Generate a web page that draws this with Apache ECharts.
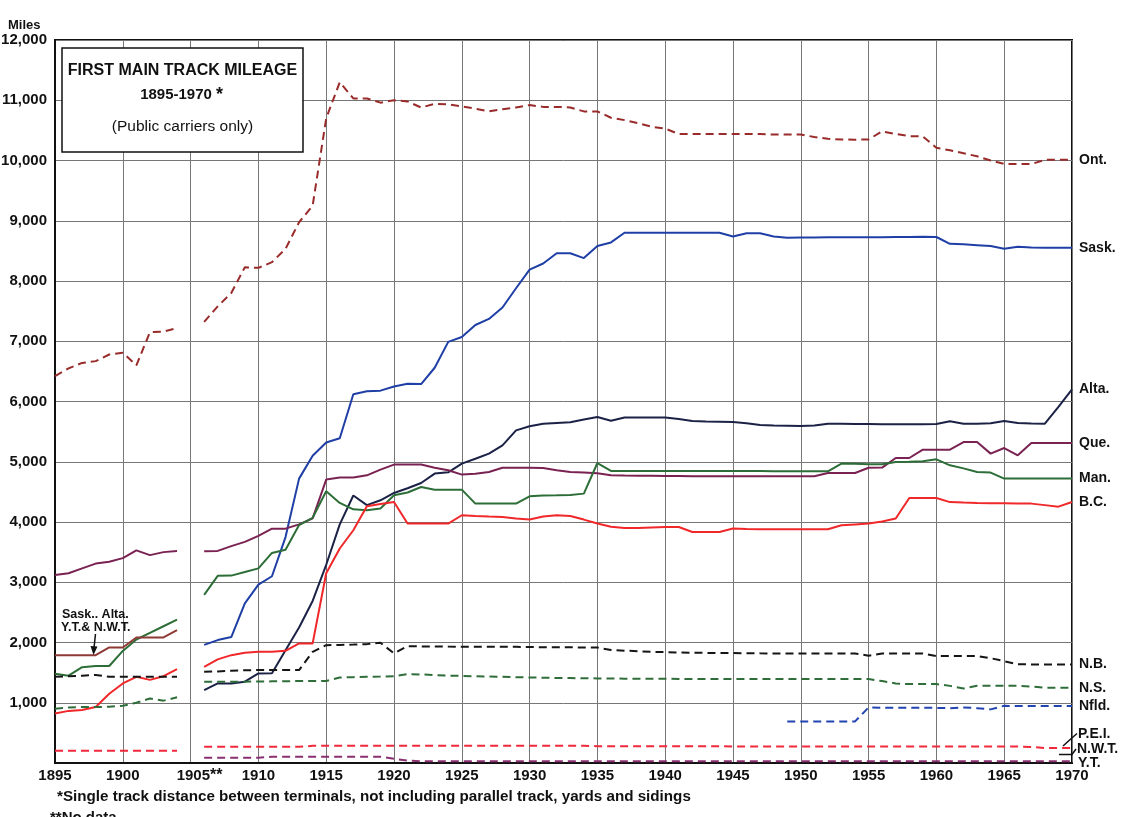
<!DOCTYPE html>
<html>
<head>
<meta charset="utf-8">
<title>First Main Track Mileage 1895-1970</title>
<script src="https://cdn.jsdelivr.net/npm/echarts/dist/echarts.min.js"></script>
<style>
    html, body { margin: 0; padding: 0; background: #fff; }
    #main { width: 1131px; height: 817px; }
</style>
</head>
<body>
<div id="main"></div>
<script>
// years on the x axis, 1905 has no data
var years = [
    1895, 1896, 1897, 1898, 1899, 1900, 1901, 1902, 1903, 1904,
    1905,
    1906, 1907, 1908, 1909, 1910, 1911, 1912, 1913, 1914,
    1915, 1916, 1917, 1918, 1919, 1920, 1921, 1922, 1923, 1924,
    1925, 1926, 1927, 1928, 1929, 1930, 1931, 1932, 1933, 1934,
    1935, 1936, 1937, 1938, 1939, 1940, 1941, 1942, 1943, 1944,
    1945, 1946, 1947, 1948, 1949, 1950, 1951, 1952, 1953, 1954,
    1955, 1956, 1957, 1958, 1959, 1960, 1961, 1962, 1963, 1964,
    1965, 1966, 1967, 1968, 1969, 1970
];
var yTicks = [0, 1000, 2000, 3000, 4000, 5000, 6000, 7000, 8000, 9000, 10000, 11000, 12000];

// miles per province, same order as years (null = no line)
var ont = [
    6420, 6550, 6640, 6670, 6780, 6810, 6600, 7150, 7160, 7220,
    null,
    7320, 7580, 7800, 8229, 8218, 8312, 8533, 8975, 9250,
    10700, 11300, 11030, 11030, 10960, 11000, 10980, 10880, 10940, 10930,
    10900, 10860, 10815, 10850, 10880, 10920, 10890, 10890, 10880, 10815,
    10815, 10710, 10670, 10620, 10560, 10530, 10440, 10440, 10440, 10440,
    10440, 10440, 10440, 10430, 10430, 10430, 10390, 10360, 10350, 10345,
    10350, 10484, 10440, 10405, 10400, 10210, 10170, 10120, 10070, 10000,
    9943, 9940, 9940, 10010, 10014, 10014
];
var sask = [
    null, null, null, null, null, null, null, null, null, null,
    null,
    1960, 2040, 2090, 2650, 2960, 3100, 3750, 4720, 5100,
    5320, 5390, 6120, 6170, 6180, 6250, 6295, 6290, 6560, 6990,
    7070, 7270, 7370, 7560, 7880, 8190, 8290, 8460, 8460, 8380,
    8580, 8640, 8800, 8800, 8800, 8800, 8800, 8800, 8800, 8800,
    8740, 8793, 8793, 8740, 8716, 8720, 8720, 8725, 8725, 8725,
    8725, 8725, 8730, 8730, 8735, 8730, 8617, 8610, 8595, 8580,
    8534, 8570, 8555, 8550, 8550, 8550
];
var alta = [
    null, null, null, null, null, null, null, null, null, null,
    null,
    1210, 1320, 1320, 1350, 1487, 1490, 1870, 2250, 2690,
    3290, 3960, 4440, 4280, 4360, 4482, 4560, 4647, 4803, 4825,
    4969, 5050, 5135, 5273, 5521, 5588, 5630, 5643, 5655, 5700,
    5743, 5680, 5735, 5735, 5735, 5735, 5710, 5676, 5670, 5665,
    5660, 5640, 5610, 5600, 5598, 5594, 5600, 5632, 5630, 5628,
    5626, 5624, 5622, 5621, 5621, 5625, 5671, 5632, 5632, 5640,
    5676, 5643, 5635, 5632, 5910, 6200
];
var que = [
    3120, 3150, 3230, 3310, 3340, 3400, 3530, 3450, 3500, 3520,
    null,
    3515, 3520, 3600, 3670, 3770, 3890, 3890, 3960, 4060,
    4704, 4737, 4737, 4775, 4870, 4953, 4953, 4953, 4900, 4860,
    4787, 4800, 4830, 4900, 4900, 4900, 4895, 4860, 4830, 4820,
    4810, 4775, 4770, 4768, 4766, 4764, 4762, 4760, 4760, 4760,
    4760, 4760, 4760, 4760, 4760, 4760, 4760, 4814, 4814, 4814,
    4900, 4903, 5062, 5062, 5200, 5200, 5201, 5327, 5327, 5135,
    5228, 5107, 5311, 5311, 5311, 5311
];
var man = [
    1480, 1450, 1590, 1610, 1610, 1860, 2050, 2160, 2270, 2380,
    null,
    2790, 3106, 3110, 3170, 3230, 3487, 3540, 3950, 4070,
    4510, 4316, 4210, 4195, 4223, 4443, 4490, 4581, 4537, 4537,
    4537, 4305, 4305, 4305, 4305, 4426, 4440, 4443, 4450, 4471,
    4979, 4847, 4845, 4845, 4845, 4845, 4845, 4845, 4845, 4845,
    4845, 4845, 4845, 4841, 4841, 4841, 4841, 4841, 4969, 4965,
    4960, 4960, 4996, 5000, 5007, 5040, 4941, 4890, 4830, 4820,
    4720, 4720, 4720, 4720, 4720, 4720
];
var bc = [
    820, 865, 880, 930, 1150, 1320, 1430, 1380, 1440, 1560,
    null,
    1597, 1720, 1790, 1829, 1846, 1846, 1862, 1985, 1985,
    3150, 3560, 3863, 4261, 4300, 4332, 3974, 3974, 3974, 3974,
    4112, 4100, 4090, 4084, 4060, 4040, 4090, 4112, 4100, 4040,
    3974, 3920, 3901, 3900, 3910, 3915, 3918, 3835, 3835, 3835,
    3891, 3885, 3880, 3880, 3880, 3880, 3880, 3880, 3946, 3960,
    3974, 4010, 4057, 4399, 4399, 4399, 4330, 4322, 4315, 4310,
    4310, 4308, 4305, 4280, 4255, 4333
];
var nb = [
    1430, 1440, 1450, 1460, 1430, 1430, 1430, 1430, 1430, 1430,
    null,
    1514, 1520, 1530, 1540, 1542, 1542, 1542, 1542, 1846,
    1956, 1960, 1965, 1973, 1995, 1819, 1940, 1935, 1935, 1932,
    1930, 1928, 1928, 1928, 1928, 1925, 1922, 1920, 1920, 1918,
    1918, 1874, 1865, 1855, 1846, 1840, 1835, 1830, 1828, 1826,
    1824, 1822, 1820, 1819, 1819, 1819, 1819, 1819, 1819, 1819,
    1780, 1819, 1819, 1819, 1819, 1774, 1774, 1774, 1774, 1740,
    1690, 1640, 1636, 1636, 1636, 1636
];
var ns = [
    900, 920, 930, 930, 933, 950, 1000, 1070, 1035, 1090,
    null,
    1348, 1350, 1350, 1350, 1352, 1355, 1358, 1360, 1360,
    1360, 1420, 1425, 1430, 1435, 1442, 1476, 1470, 1460, 1450,
    1445, 1440, 1435, 1430, 1425, 1420, 1415, 1412, 1410, 1406,
    1404, 1402, 1400, 1400, 1398, 1398, 1396, 1396, 1395, 1395,
    1394, 1394, 1393, 1393, 1393, 1393, 1393, 1393, 1393, 1393,
    1393, 1360, 1320, 1310, 1310, 1310, 1280, 1238, 1282, 1282,
    1282, 1282, 1270, 1250, 1250, 1250
];
var nfld = [
    null, null, null, null, null, null, null, null, null, null,
    null,
    null, null, null, null, null, null, null, null, null,
    null, null, null, null, null, null, null, null, null, null,
    null, null, null, null, null, null, null, null, null, null,
    null, null, null, null, null, null, null, null, null, null,
    null, null, null, null, 690, 690, 690, 690, 690, 690,
    923, 918, 915, 915, 915, 915, 910, 923, 910, 890,
    950, 945, 945, 945, 945, 945
];
var pei = [
    205, 205, 205, 205, 205, 205, 205, 205, 205, 205,
    null,
    270, 270, 270, 270, 270, 270, 270, 270, 285,
    285, 285, 285, 285, 285, 285, 285, 285, 285, 285,
    285, 285, 285, 285, 285, 285, 285, 285, 285, 285,
    280, 280, 280, 280, 280, 280, 280, 280, 280, 280,
    275, 275, 275, 275, 275, 275, 275, 275, 275, 275,
    275, 275, 275, 275, 275, 275, 275, 275, 275, 275,
    275, 275, 265, 250, 250, 250
];
var yt = [
    null, null, null, null, null, null, null, null, null, null,
    null,
    88, 88, 88, 88, 88, 105, 105, 105, 105,
    105, 105, 105, 105, 105, 70, 38, 30, 30, 30,
    30, 30, 30, 30, 30, 30, 30, 30, 30, 30,
    30, 30, 30, 30, 30, 30, 30, 30, 30, 30,
    30, 30, 30, 30, 30, 30, 30, 30, 30, 30,
    30, 30, 30, 30, 30, 30, 30, 30, 30, 30,
    30, 30, 30, 30, 30, 30
];
// Sask., Alta., Y.T. & N.W.T. together, before 1905
var territories = [1790, 1790, 1790, 1790, 1918, 1918, 2084, 2084, 2084, 2205];

var FONT = '"Liberation Sans", Arial, sans-serif';

function pairs(vals) {
    return years.map(function(y, i) {
        return [y, vals[i] == null ? '-' : vals[i]];
    });
}

function line(name, vals, color, dashed, label) {
    return {
        name: name,
        type: 'line',
        data: pairs(vals),
        symbol: 'none',
        showSymbol: false,
        connectNulls: false,
        silent: true,
        lineStyle: { color: color, width: 2, type: dashed ? [8, 5] : 'solid' },
        endLabel: {
            show: label,
            formatter: name,
            color: '#111',
            fontFamily: FONT,
            fontSize: 14,
            fontWeight: 'bold',
            distance: 7
        }
    };
}

function commas(v) {
    if (v === 0) return '';
    var s = String(v);
    return s.length > 3 ? s.slice(0, s.length - 3) + ',' + s.slice(s.length - 3) : s;
}

var myChart = echarts.init(document.getElementById('main'));

var option = {
    animation: false,
    backgroundColor: '#fff',
    grid: {
        left: 55, right: 59, top: 40, bottom: 54,
        containLabel: false,
        outerBoundsMode: 'none',
        show: true,
        borderColor: '#111',
        borderWidth: 2
    },
    xAxis: {
        type: 'value',
        min: 1895, max: 1970, interval: 5,
        axisLine: { show: true, lineStyle: { color: '#111', width: 2 } },
        axisTick: { show: false },
        splitLine: { show: true, lineStyle: { color: '#767676', width: 1 } },
        axisLabel: {
            color: '#111', fontFamily: FONT, fontSize: 15, fontWeight: 'bold', margin: 5,
            formatter: function(v) {
                return v === 1905 ? '{pad|}1905{s|**}' : String(v);
            },
            rich: {
                pad: { width: 18 },
                s: { fontFamily: FONT, fontSize: 16, fontWeight: 'bold', color: '#111' }
            }
        }
    },
    yAxis: {
        type: 'value',
        min: yTicks[0], max: yTicks[yTicks.length - 1], interval: 1000,
        axisLine: { show: true, lineStyle: { color: '#111', width: 2 } },
        axisTick: { show: false },
        splitLine: { show: true, lineStyle: { color: '#767676', width: 1 } },
        axisLabel: {
            color: '#111', fontFamily: FONT, fontSize: 15, fontWeight: 'bold', margin: 8,
            formatter: commas
        }
    },
    series: [
        line('Ont.', ont, '#992b2b', true, true),
        line('Sask.', sask, '#1f3fa6', false, true),
        line('Alta.', alta, '#1b2246', false, true),
        line('Que.', que, '#7a2252', false, true),
        line('Man.', man, '#2d6e38', false, true),
        line('B.C.', bc, '#f0282a', false, true),
        line('N.B.', nb, '#151515', true, true),
        line('N.S.', ns, '#2f6e3a', true, true),
        line('Nfld.', nfld, '#2244b0', true, true),
        line('P.E.I.', pei, '#f02a3a', true, false),
        line('Y.T.', yt, '#8a3070', true, false),
        line('Sask., Alta., Y.T. & N.W.T.', territories, '#8e3a36', false, false)
    ],
    graphic: [
        { type: 'text', x: 8, y: 25, z: 100,
          style: { text: 'Miles', font: 'bold 13px ' + FONT, fill: '#111', verticalAlign: 'middle' } },
        // title box
        { type: 'rect', z: 100, shape: { x: 62, y: 48, width: 241, height: 104 },
          style: { fill: '#fff', stroke: '#111', lineWidth: 1.5 } },
        { type: 'text', x: 182.5, y: 71, z: 101,
          style: { text: 'FIRST MAIN TRACK MILEAGE', font: 'bold 16px ' + FONT, fill: '#111', align: 'center', verticalAlign: 'middle' } },
        { type: 'text', x: 176, y: 95, z: 101,
          style: { text: '1895-1970', font: 'bold 15px ' + FONT, fill: '#111', align: 'center', verticalAlign: 'middle' } },
        { type: 'text', x: 216, y: 95, z: 101,
          style: { text: '*', font: 'bold 18px ' + FONT, fill: '#111', align: 'left', verticalAlign: 'middle' } },
        { type: 'text', x: 182.5, y: 127, z: 101,
          style: { text: '(Public carriers only)', font: '15.5px ' + FONT, fill: '#111', align: 'center', verticalAlign: 'middle' } },
        // note for the early territories line
        { type: 'text', x: 62, y: 615, z: 101,
          style: { text: 'Sask.. Alta.', font: 'bold 12.5px ' + FONT, fill: '#111', verticalAlign: 'middle' } },
        { type: 'text', x: 61, y: 628, z: 101,
          style: { text: 'Y.T.& N.W.T.', font: 'bold 12.5px ' + FONT, fill: '#111', verticalAlign: 'middle' } },
        { type: 'polyline', z: 101, shape: { points: [[95.5, 634], [94, 648]] },
          style: { stroke: '#111', lineWidth: 1.5, fill: null } },
        { type: 'polygon', z: 101, shape: { points: [[90.5, 646], [97.5, 646.5], [93.5, 655]] },
          style: { fill: '#111' } },
        // small labels at bottom right
        { type: 'polyline', z: 101, shape: { points: [[1063, 746], [1073, 737], [1077, 733.5]] },
          style: { stroke: '#111', lineWidth: 1.5, fill: null } },
        { type: 'polyline', z: 101, shape: { points: [[1059, 754.5], [1072, 754.5], [1076, 749]] },
          style: { stroke: '#111', lineWidth: 1.5, fill: null } },
        { type: 'text', x: 1078, y: 734, z: 101,
          style: { text: 'P.E.I.', font: 'bold 14px ' + FONT, fill: '#111', verticalAlign: 'middle' } },
        { type: 'text', x: 1077, y: 749, z: 101,
          style: { text: 'N.W.T.', font: 'bold 14px ' + FONT, fill: '#111', verticalAlign: 'middle' } },
        { type: 'text', x: 1078, y: 763, z: 101,
          style: { text: 'Y.T.', font: 'bold 14px ' + FONT, fill: '#111', verticalAlign: 'middle' } },
        // footnotes
        { type: 'text', x: 57, y: 797, z: 101,
          style: { text: '*Single track distance between terminals, not including parallel track, yards and sidings',
                   font: 'bold 15.2px ' + FONT, fill: '#111', verticalAlign: 'middle' } },
        { type: 'text', x: 50, y: 818, z: 101,
          style: { text: '**No data', font: 'bold 15px ' + FONT, fill: '#111', verticalAlign: 'middle' } }
    ]
};

myChart.setOption(option);
</script>
</body>
</html>
